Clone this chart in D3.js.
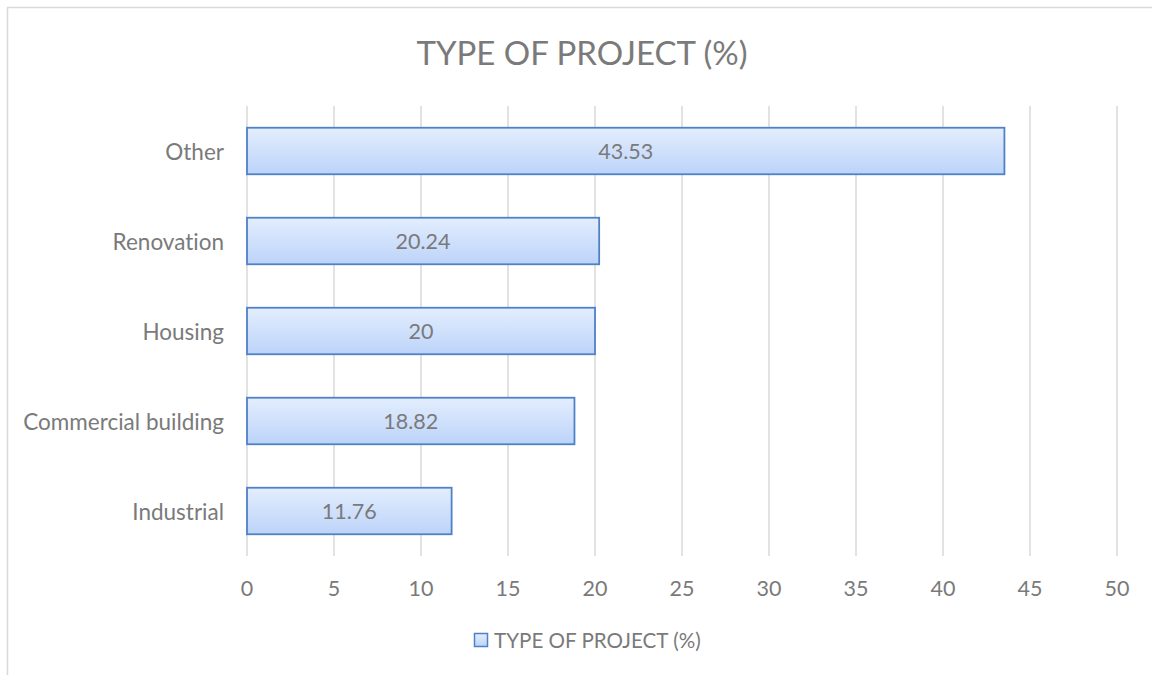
<!DOCTYPE html>
<html><head><meta charset="utf-8">
<script src="https://cdn.jsdelivr.net/npm/d3@7"></script>
<style>body{margin:0;background:#fff;}svg{display:block;font-family:Lato,"Open Sans",sans-serif;font-variant-ligatures:none;font-feature-settings:"liga" 0,"clig" 0;}</style>
</head><body>
<svg id="c" width="1152" height="675"></svg>
<script>
const categories = ["Other", "Renovation", "Housing", "Commercial building", "Industrial"];
const values = [43.53, 20.24, 20, 18.82, 11.76];
const xTicks = [0, 5, 10, 15, 20, 25, 30, 35, 40, 45, 50];
const title = "TYPE OF PROJECT (%)";
const seriesName = "TYPE OF PROJECT (%)";

(function(){
const txt = "#7a7a7a";
const svg = d3.select("#c");
const defs = svg.append("defs");
const g = defs.append("linearGradient").attr("id","bg").attr("x1",0).attr("y1",0).attr("x2",0).attr("y2",1);
g.append("stop").attr("offset","0%").attr("stop-color","#e3eefe");
g.append("stop").attr("offset","100%").attr("stop-color","#bcd3f9");

svg.append("rect").attr("x",7.5).attr("y",7.5).attr("width",1160).attr("height",680)
  .attr("fill","#fff").attr("stroke","#d9d9d9").attr("stroke-width",1.5);

const pL = 247, pR = 1117, pT = 106, pB = 556;
const x = d3.scaleLinear().domain([0,50]).range([pL,pR]);
const y = d3.scaleBand().domain(categories).range([pT,pB]).paddingInner(0.483).paddingOuter(0.2415);

svg.append("g").selectAll("line").data(xTicks).join("line")
  .attr("x1",d=>x(d)).attr("x2",d=>x(d)).attr("y1",pT).attr("y2",pB)
  .attr("stroke","#d9d9d9").attr("stroke-width",1.5);

svg.append("g").selectAll("text").data(xTicks).join("text")
  .attr("x",d=>x(d)).attr("y",588).attr("text-anchor","middle").attr("dominant-baseline","central")
  .attr("fill",txt).attr("font-size",21.5).text(d=>d);

svg.append("g").selectAll("text").data(categories).join("text")
  .attr("x",224).attr("y",d=>y(d)+y.bandwidth()/2).attr("text-anchor","end").attr("dominant-baseline","central")
  .attr("fill",txt).attr("font-size",22.5).text(d=>d);

const bars = svg.append("g");
bars.selectAll("rect").data(values).join("rect")
  .attr("x",x(0)).attr("y",(d,i)=>y(categories[i]))
  .attr("width",d=>x(d)-x(0)).attr("height",y.bandwidth())
  .attr("fill","url(#bg)").attr("stroke","#4f81c7").attr("stroke-width",1.8);

bars.selectAll("text").data(values).join("text")
  .attr("x",d=>(x(d)+x(0))/2).attr("y",(d,i)=>y(categories[i])+y.bandwidth()/2)
  .attr("text-anchor","middle").attr("dominant-baseline","central")
  .attr("fill",txt).attr("font-size",21.5).text(d=>d);

svg.append("text").attr("x",582).attr("y",52).attr("text-anchor","middle").attr("dominant-baseline","central")
  .attr("fill",txt).attr("font-size",33).text(title);

svg.append("rect").attr("x",474.5).attr("y",633.5).attr("width",13).attr("height",13)
  .attr("fill","url(#bg)").attr("stroke","#4f81c7").attr("stroke-width",1.5);
svg.append("text").attr("x",494).attr("y",640).attr("dominant-baseline","central")
  .attr("fill",txt).attr("font-size",20.6).text(seriesName);
})();
</script>
</body></html>
